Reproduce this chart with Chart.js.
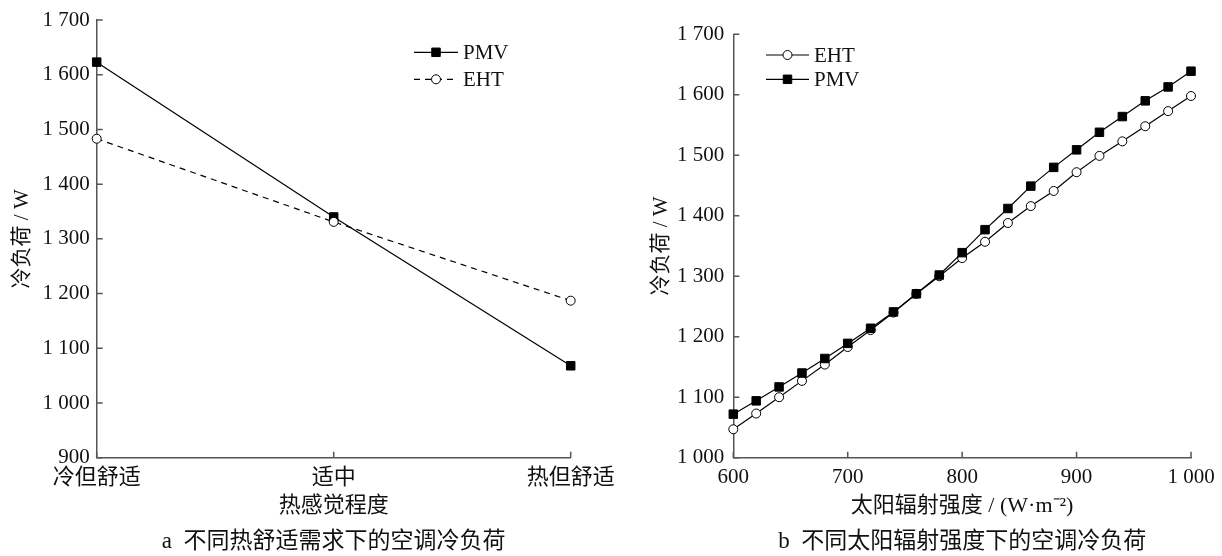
<!DOCTYPE html>
<html>
<head>
<meta charset="utf-8">
<script src="https://cdn.jsdelivr.net/npm/chart.js@4.4.1/dist/chart.umd.min.js"></script>
<style>
  body { margin: 0; background: #fff; }
  #wrap { position: relative; width: 1222px; height: 556px; overflow: hidden; }
  .box { position: absolute; top: 0; height: 556px; }
  #boxA { left: 0; width: 625px; }
  #boxB { left: 611px; width: 611px; }
</style>
</head>
<body>
<div id="wrap">
  <div class="box" id="boxA"><canvas id="chartA"></canvas></div>
  <div class="box" id="boxB"><canvas id="chartB"></canvas></div>
</div>
<script>
// (a) cooling load under different thermal comfort demands
const comfortLevels = ['冷但舒适', '适中', '热但舒适'];
const pmvByComfort = [1623, 1340, 1068];
const ehtByComfort = [1483, 1331, 1187];

// (b) cooling load under different solar radiation intensity
const solarIntensity = [600, 620, 640, 660, 680, 700, 720, 740, 760, 780, 800,
                        820, 840, 860, 880, 900, 920, 940, 960, 980, 1000];
const pmvBySolar = [1072, 1094, 1117, 1140, 1164, 1189, 1214, 1241, 1271, 1302, 1339,
                    1377, 1412, 1449, 1480, 1509, 1538, 1564, 1590, 1613, 1639];
const ehtBySolar = [1047, 1073, 1100, 1127, 1154, 1183, 1211, 1240, 1271, 1300, 1330,
                    1357, 1388, 1416, 1441, 1472, 1499, 1523, 1548, 1573, 1598];

const captionA = 'a  不同热舒适需求下的空调冷负荷';
const captionB = 'b  不同太阳辐射强度下的空调冷负荷';

const FONT = "'Liberation Serif', 'Noto Sans CJK SC', serif";
const axisColor = '#555';

// "1700" -> "1 700"
function spaced(v) {
    if (v >= 1000) {
        return Math.floor(v / 1000) + ' ' + String(v % 1000).padStart(3, '0');
    }
    return String(v);
}

// tick marks pointing into the plot area
const innerTicks = {
    id: 'innerTicks',
    beforeDatasetsDraw(chart) {
        const { ctx, chartArea: a, scales: { x, y } } = chart;
        ctx.save();
        ctx.strokeStyle = axisColor;
        ctx.lineWidth = 1.5;
        ctx.beginPath();
        y.ticks.forEach((t, i) => {
            const py = y.getPixelForTick(i);
            ctx.moveTo(a.left, py);
            ctx.lineTo(a.left + 6, py);
        });
        x.ticks.forEach((t, i) => {
            const px = x.getPixelForTick(i);
            ctx.moveTo(px, a.bottom);
            ctx.lineTo(px, a.bottom - 6);
        });
        ctx.stroke();
        ctx.restore();
    }
};

// legend with a line sample and the marker on it
const lineLegend = {
    id: 'lineLegend',
    afterDraw(chart, args, opts) {
        const ctx = chart.ctx;
        ctx.save();
        opts.items.forEach(item => {
            const ds = chart.data.datasets[item.dataset];
            ctx.strokeStyle = '#000';
            ctx.lineWidth = 1.2;
            ctx.setLineDash(ds.borderDash || []);
            ctx.beginPath();
            ctx.moveTo(opts.x1, item.y);
            ctx.lineTo(opts.x2, item.y);
            ctx.stroke();
            ctx.setLineDash([]);
            ctx.fillStyle = ds.pointBackgroundColor;
            ctx.strokeStyle = '#000';
            ctx.lineWidth = 1;
            Chart.helpers.drawPoint(ctx, {
                pointStyle: ds.pointStyle, radius: ds.pointRadius, rotation: 0, borderWidth: 1
            }, (opts.x1 + opts.x2) / 2, item.y);
            ctx.fillStyle = '#111';
            ctx.font = '21px ' + FONT;
            ctx.textAlign = 'left';
            ctx.textBaseline = 'middle';
            ctx.fillText(ds.label, opts.x2 + 5, item.y + 1);
        });
        ctx.restore();
    }
};

// figure caption under the axis title
const caption = {
    id: 'caption',
    afterDraw(chart, args, opts) {
        const { ctx, chartArea: a } = chart;
        ctx.save();
        ctx.fillStyle = '#111';
        ctx.font = '23px ' + FONT;
        ctx.textAlign = 'center';
        ctx.textBaseline = 'middle';
        ctx.fillText(opts.text, (a.left + a.right) / 2, opts.y);
        ctx.restore();
    }
};

function pmvSet(data) {
    return {
        label: 'PMV', data: data,
        borderColor: '#000', borderWidth: 1.2,
        pointStyle: 'rect', pointRadius: 6,
        pointBackgroundColor: '#000', pointBorderColor: '#000', pointBorderWidth: 1,
        tension: 0, clip: false
    };
}

function ehtSet(data, dash) {
    return {
        label: 'EHT', data: data,
        borderColor: '#000', borderWidth: 1.2, borderDash: dash,
        pointStyle: 'circle', pointRadius: 4.5,
        pointBackgroundColor: '#fff', pointBorderColor: '#000', pointBorderWidth: 1,
        tension: 0, clip: false
    };
}

function yScale(min, max, width, pad) {
    return {
        type: 'linear', min: min, max: max,
        grid: { display: false, drawTicks: false },
        border: { display: true, color: axisColor, width: 1.5 },
        ticks: {
            stepSize: 100, autoSkip: false, padding: pad,
            color: '#111', font: { family: FONT, size: 21 },
            callback: v => spaced(v)
        },
        title: {
            display: true, text: '冷负荷 / W', color: '#111',
            font: { family: FONT, size: 21 }, padding: 0
        },
        afterFit(scale) { scale.width = width; }
    };
}

function xScaleBase(titleText, labelSize) {
    return {
        grid: { display: false, drawTicks: false },
        border: { display: true, color: axisColor, width: 1.5 },
        ticks: {
            autoSkip: false, maxRotation: 0, padding: 7,
            color: '#111', font: { family: FONT, size: labelSize }
        },
        title: {
            display: true, text: titleText, color: '#111',
            font: { family: FONT, size: 22 }, padding: { top: 0, bottom: 37 }
        },
        afterFit(scale) { scale.height = 98.3; }
    };
}

const xA = xScaleBase('热感觉程度', 22);
xA.type = 'category';
xA.offset = false;

new Chart(document.getElementById('chartA'), {
    type: 'line',
    data: {
        labels: comfortLevels,
        datasets: [ehtSet(ehtByComfort, [6, 5]), pmvSet(pmvByComfort)]
    },
    options: {
        responsive: true, maintainAspectRatio: false, animation: false,
        layout: { padding: { left: 10, right: 54.3, top: 20, bottom: 0 } },
        scales: { x: xA, y: yScale(900, 1700, 86.7, 7) },
        plugins: {
            legend: { display: false },
            tooltip: { enabled: false },
            lineLegend: { x1: 414, x2: 458, items: [{ dataset: 1, y: 52.3 }, { dataset: 0, y: 79.3 }] },
            caption: { text: captionA, y: 542 }
        }
    },
    plugins: [innerTicks, lineLegend, caption]
});

const xB = xScaleBase('太阳辐射强度 / (W·m⁻²)', 21);
xB.type = 'linear';
xB.min = 600;
xB.max = 1000;
xB.ticks.stepSize = 100;
xB.ticks.callback = v => spaced(v);

new Chart(document.getElementById('chartB'), {
    type: 'line',
    data: {
        datasets: [
            pmvSet(solarIntensity.map((s, i) => ({ x: s, y: pmvBySolar[i] }))),
            ehtSet(solarIntensity.map((s, i) => ({ x: s, y: ehtBySolar[i] })), [])
        ]
    },
    options: {
        responsive: true, maintainAspectRatio: false, animation: false,
        layout: { padding: { left: 38, right: 31, top: 34.3, bottom: 0 } },
        scales: { x: xB, y: yScale(1000, 1700, 84.3, 9) },
        plugins: {
            legend: { display: false },
            tooltip: { enabled: false },
            lineLegend: { x1: 155, x2: 198, items: [{ dataset: 1, y: 55 }, { dataset: 0, y: 79.3 }] },
            caption: { text: captionB, y: 542 }
        }
    },
    plugins: [innerTicks, lineLegend, caption]
});
</script>
</body>
</html>
